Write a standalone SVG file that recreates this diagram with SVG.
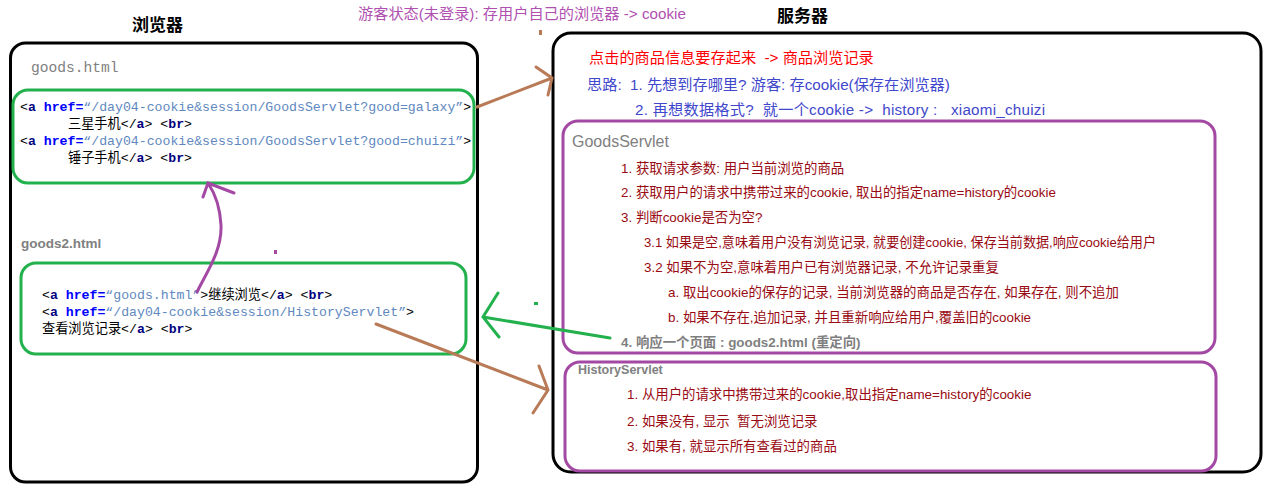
<svg xmlns="http://www.w3.org/2000/svg" width="1276" height="486" viewBox="0 0 1276 486">
  <style>
    .frame { fill: none; stroke: #000; stroke-width: 3; }
    .gbox { fill: none; stroke: #22b14c; stroke-width: 3; }
    .pbox { fill: none; stroke: #a349a4; stroke-width: 3; }
    .code { font-family: "Liberation Mono", "Noto Sans CJK SC", monospace; font-size: 13.2px; fill: #000; white-space: pre; }
    .kw { fill: #000080; font-weight: bold; }
    .attr { fill: #0000ff; font-weight: bold; }
    .val { fill: #6088c0; }
    .sans { font-family: "Liberation Sans", "Noto Sans CJK SC", sans-serif; white-space: pre; }
    .title { font-size: 17px; fill: #000; }
    .note { font-size: 15.2px; }
    .step { font-size: 13.4px; fill: #990a12; }
    .brown { stroke: #b97a57; stroke-width: 3; fill: none; stroke-linecap: round; }
    .green { stroke: #22b14c; stroke-width: 3; fill: none; stroke-linecap: round; }
    .purple { stroke: #a349a4; stroke-width: 3; fill: none; stroke-linecap: round; }
  </style>

  <!-- column titles and top note -->
  <text class="sans title" x="132" y="31" font-weight="bold">浏览器</text>
  <text class="sans title" x="777" y="22" font-weight="bold">服务器</text>
  <text class="sans note" x="358" y="19" fill="#b050b0">游客状态(未登录): 存用户自己的浏览器 -&gt; cookie</text>

  <!-- browser side -->
  <g id="browser">
    <rect class="frame" x="10.5" y="43" width="467" height="439" rx="15"/>
    <text x="31" y="72" font-family="Liberation Mono, monospace" font-size="14.6px" fill="#808080">goods.html</text>
  </g>

  <g id="goods-html">
    <rect class="gbox" x="13" y="90" width="461" height="93" rx="15"/>
    <text class="code" x="20" y="111">&lt;<tspan class="kw">a</tspan> <tspan class="attr">href=</tspan><tspan class="val">“/day04-cookie&amp;session/GoodsServlet?good=galaxy”</tspan>&gt;</text>
    <text class="code" x="68" y="128">三星手机&lt;/<tspan class="kw">a</tspan>&gt; &lt;<tspan class="kw">br</tspan>&gt;</text>
    <text class="code" x="20" y="145">&lt;<tspan class="kw">a</tspan> <tspan class="attr">href=</tspan><tspan class="val">“/day04-cookie&amp;session/GoodsServlet?good=chuizi”</tspan>&gt;</text>
    <text class="code" x="68" y="162">锤子手机&lt;/<tspan class="kw">a</tspan>&gt; &lt;<tspan class="kw">br</tspan>&gt;</text>
  </g>

  <g id="goods2-html">
    <text class="sans" x="21" y="248" font-size="13.5px" font-weight="bold" fill="#808080">goods2.html</text>
    <rect class="gbox" x="21" y="263" width="445" height="91" rx="15"/>
    <text class="code" x="42" y="299">&lt;<tspan class="kw">a</tspan> <tspan class="attr">href=</tspan><tspan class="val">“goods.html”</tspan>&gt;继续浏览&lt;/<tspan class="kw">a</tspan>&gt; &lt;<tspan class="kw">br</tspan>&gt;</text>
    <text class="code" x="42" y="316">&lt;<tspan class="kw">a</tspan> <tspan class="attr">href=</tspan><tspan class="val">“/day04-cookie&amp;session/HistoryServlet”</tspan>&gt;</text>
    <text class="code" x="42" y="333">查看浏览记录&lt;/<tspan class="kw">a</tspan>&gt; &lt;<tspan class="kw">br</tspan>&gt;</text>
  </g>

  <!-- server side -->
  <g id="server">
    <rect class="frame" x="553" y="33" width="708" height="439" rx="18"/>
    <text class="sans note" x="589" y="63" fill="#ff0000">点击的商品信息要存起来  -&gt; 商品浏览记录</text>
    <text class="sans note" x="587" y="90" fill="#3f48cc">思路:  1. 先想到存哪里? 游客: 存cookie(保存在浏览器)</text>
    <text class="sans note" x="635" y="115" fill="#3f48cc" textLength="410" lengthAdjust="spacing">2. 再想数据格式?  就一个cookie -&gt;  history :   xiaomi_chuizi</text>
  </g>

  <g id="goods-servlet">
    <rect class="pbox" x="563" y="121" width="652" height="232" rx="15"/>
    <text class="sans" x="572" y="147" font-size="16px" fill="#808080">GoodsServlet</text>
    <text class="sans step" x="621" y="173">1. 获取请求参数: 用户当前浏览的商品</text>
    <text class="sans step" x="621" y="197">2. 获取用户的请求中携带过来的cookie, 取出的指定name=history的cookie</text>
    <text class="sans step" x="621" y="222">3. 判断cookie是否为空?</text>
    <text class="sans step" x="644" y="247" textLength="512" lengthAdjust="spacingAndGlyphs">3.1 如果是空,意味着用户没有浏览记录, 就要创建cookie, 保存当前数据,响应cookie给用户</text>
    <text class="sans step" x="644" y="272">3.2 如果不为空,意味着用户已有浏览器记录, 不允许记录重复</text>
    <text class="sans step" x="668" y="297">a. 取出cookie的保存的记录, 当前浏览器的商品是否存在, 如果存在, 则不追加</text>
    <text class="sans step" x="668" y="322">b. 如果不存在,追加记录, 并且重新响应给用户,覆盖旧的cookie</text>
    <text class="sans" x="621" y="347" font-size="13.4px" font-weight="bold" fill="#7f7f7f">4. 响应一个页面 : goods2.html (重定向)</text>
  </g>

  <g id="history-servlet">
    <rect class="pbox" x="565" y="362" width="651" height="109" rx="15"/>
    <text class="sans" x="578" y="374" font-size="12.5px" font-weight="bold" fill="#808080">HistoryServlet</text>
    <text class="sans step" x="627" y="399">1. 从用户的请求中携带过来的cookie,取出指定name=history的cookie</text>
    <text class="sans step" x="627" y="426">2. 如果没有, 显示  暂无浏览记录</text>
    <text class="sans step" x="627" y="451">3. 如果有, 就显示所有查看过的商品</text>
  </g>

  <!-- hand-drawn arrows -->
  <g id="connectors">
    <path class="brown" d="M477 107 L552 78 M536 67 L552 78 L548 95"/>
    <path class="brown" d="M376 324 L548 390 M539 366 L548 390 L533 413"/>
    <path class="green" d="M610 338 L483 317 M498 293 L483 317 L499 337"/>
    <path class="purple" d="M197 292 C208 270 222 250 221 225 C220 205 214 192 208 183 M203 197 L208 183 L234 193"/>
    <!-- stray marks -->
    <rect x="539" y="30" width="3" height="5" fill="#b97a57"/>
    <rect x="274" y="250" width="3" height="4" fill="#a349a4"/>
    <rect x="534" y="302" width="4" height="3" fill="#22b14c"/>
  </g>
</svg>
